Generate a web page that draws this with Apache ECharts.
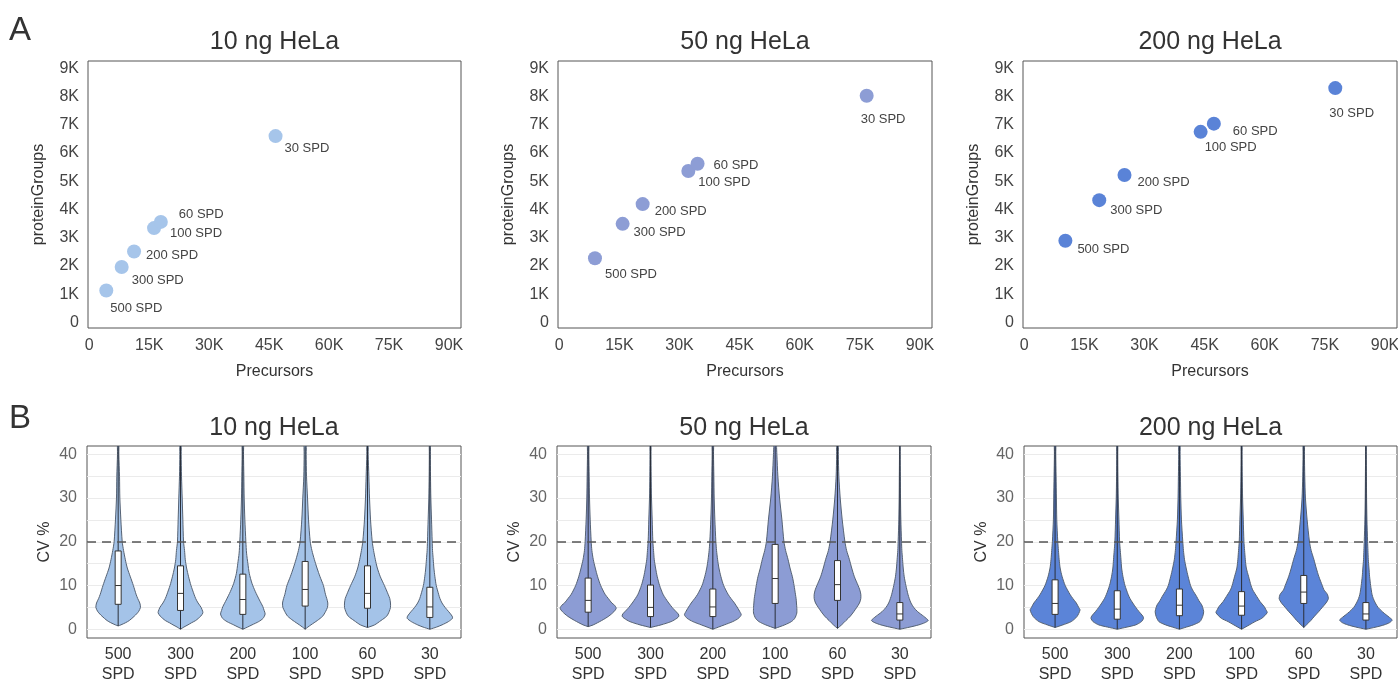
<!DOCTYPE html>
<html><head><meta charset="utf-8">
<script src="https://cdn.jsdelivr.net/npm/echarts@6/dist/echarts.min.js"></script>
<style>html,body{margin:0;padding:0;background:#fff}#c{width:1398px;height:679px}</style>
</head><body><div id="c"></div>
<script>
// ---------------- DATA ----------------
const panelTitles = ['10 ng HeLa', '50 ng HeLa', '200 ng HeLa'];
const spdLabels = ['500 SPD', '300 SPD', '200 SPD', '100 SPD', '60 SPD', '30 SPD'];
const precursorTicks = [0, 15000, 30000, 45000, 60000, 75000, 90000];
const proteinTicks = [0, 1000, 2000, 3000, 4000, 5000, 6000, 7000, 8000, 9000];
const cvTicks = [0, 10, 20, 30, 40];
const cvGridLines = [0, 5, 10, 15, 20, 25, 30, 35, 40];
const cvThreshold = 20;

// Panel A: order 500,300,200,100,60,30 SPD
const precursors10 = [4250, 8100, 11200, 16200, 17900, 46600];
const proteins10 = [1130, 1960, 2510, 3340, 3560, 6600];
const precursors50 = [8900, 15800, 20800, 32200, 34500, 76700];
const proteins50 = [2270, 3490, 4190, 5360, 5620, 8030];
const precursors200 = [10250, 18700, 25000, 44000, 47300, 77600];
const proteins200 = [2890, 4330, 5220, 6750, 7040, 8300];

// Panel B: violin density profiles [CV %, relative half-width]
const violin10 = [
  [[0.76,0],[1,8],[1.5,22],[2,33],[3,48],[4,60],[5,66],[6,64],[7,58],[8,53],[10,45],[12,36],[14,27],[16,21],[18,16],[20,12],[25,8],[30,5],[35,4],[40,2]],
  [[0,0],[0.5,10],[1,22],[1.5,33],[2,45],[3,60],[3.7,66],[4,66],[5,61],[6,52],[7,45],[8,40],[10,31],[12,24],[14,18],[16,14],[18,12],[20,9],[25,7],[30,5],[35,3],[40,2]],
  [[0,0],[0.5,14],[1,27],[1.75,47],[2.5,60],[3.5,66],[4.3,63],[5.2,59],[6.7,49],[8.6,37],[10.5,27],[12.8,19],[15,15],[17.4,11],[20,9],[25,6],[30,4],[35,3],[40,2]],
  [[0,0],[0.5,8],[1,17],[2,36],[3,52],[4,60],[5,66],[6,67],[7,64],[8,60],[10,54],[12,44],[14,35],[16,27],[18,20],[20,15],[25,10],[30,7],[35,4],[40,3]],
  [[0.4,0],[1,21],[2,40],[3,57],[4,64],[5,68],[6,68],[7,66],[8,61],[10,50],[12,38],[14,29],[16,23],[18,18],[20,14],[25,9],[30,6],[35,4],[40,2]],
  [[0,0],[0.5,20],[1,36],[1.75,55],[2.5,67],[3,66],[4,56],[5,45],[6,36],[7,30],[8,26],[10,19],[12,15],[14,12],[16,10],[18,8],[20,7],[25,5],[30,3],[35,2],[40,1.5]]
];
const violin50 = [
  [[0.6,0],[1,15],[2,40],[3,61],[4,76],[4.8,83],[5.5,78],[6,70],[7,60],[8,50],[10,37],[12,28],[14,21],[16,15],[18,11],[20,9],[25,6],[30,4],[35,3],[40,2]],
  [[0.4,0],[1,31],[1.75,61],[2.5,78],[3,84],[3.5,82],[4.4,71],[5,64],[6,54],[7,45],[8,37],[10,27],[12,20],[14,15],[16,11],[18,9],[20,7],[25,5],[30,3],[35,2],[40,1.5]],
  [[0,0],[0.5,17],[1,34],[1.75,59],[2.5,76],[3.3,84],[4,80],[4.8,74],[6,64],[7,54],[8,45],[10,32],[12,24],[14,18],[16,14],[18,11],[20,9],[25,6],[30,4],[35,3],[40,2]],
  [[0.2,0],[1,28],[1.75,48],[2.5,58],[3.7,64],[5,64],[6,63],[7,62],[8,60],[10,56],[12,51],[14,44],[16,38],[18,31],[20,26],[25,20],[30,13],[35,8],[40,5],[42,4]],
  [[0.2,0],[1,12],[2,25],[3,38],[4,48],[5,57],[6,65],[7,69],[8,69],[9,66],[10,61],[12,50],[14,42],[16,35],[18,27],[20,22],[25,14],[30,8],[35,4],[40,2.5]],
  [[0,0],[0.5,30],[1,56],[1.5,74],[2,84],[2.5,78],[3,70],[4,53],[5,41],[6,33],[7,28],[8,24],[10,18],[12,13],[14,10],[16,8],[18,6],[20,5],[25,3],[30,2],[35,1.5],[40,1]]
];
const violin200 = [
  [[0.4,0],[1,23],[1.75,48],[2.9,65],[4.4,74],[5,70],[6,63],[7,53],[8,44],[10,30],[12,21],[14,15],[16,12],[18,10],[20,8],[25,5],[30,4],[35,3],[40,2]],
  [[0,0],[0.5,29],[1,55],[1.75,72],[2.5,78],[3,76],[4,65],[5,55],[6,46],[7,38],[8,32],[10,23],[12,17],[14,13],[16,11],[18,9],[20,7],[25,5],[30,3],[35,2],[40,1.5]],
  [[0,0],[0.5,21],[1,41],[1.75,61],[2.9,69],[4,72],[5,69],[5.6,66],[6.5,58],[7.5,51],[9,39],[10,33],[12,26],[14,20],[16,15],[18,12],[20,10],[25,6],[30,4],[35,3],[40,2]],
  [[0,0],[1,23],[1.75,40],[2.5,60],[3.8,76],[4.5,72],[5.2,67],[6.3,55],[7.5,45],[9,33],[10,28],[12,21],[14,14],[16,11],[18,9],[20,7],[25,5],[30,3],[35,2],[40,1.5]],
  [[0.4,0],[1,8],[2,21],[3,32],[4,44],[5,55],[6,66],[7,73],[8,70],[9,60],[10,55],[12,45],[14,37],[16,30],[18,22],[20,17],[25,10],[30,5],[35,3],[40,2]],
  [[0,0],[0.5,30],[1,54],[1.5,70],[2.1,78],[2.7,70],[3.3,60],[4,49],[5,36],[6,28],[7,22],[8,18],[10,14],[12,11],[14,9],[16,7],[18,6],[20,5],[25,3],[30,2],[35,1.5],[40,1]]
];
// box stats [Q1, median, Q3]
const box10 = [[5.7,10.0,17.9],[4.3,8.2,14.5],[3.4,6.8,12.6],[5.3,9.1,15.5],[4.8,8.2,14.5],[2.7,5.1,9.6]];
const box50 = [[3.9,6.6,11.7],[2.9,5.0,10.1],[2.9,5.1,9.2],[5.9,11.6,19.4],[6.6,10.2,15.7],[2.1,3.5,6.1]];
const box200 = [[3.4,5.9,11.3],[2.3,4.6,8.8],[3.1,5.5,9.2],[3.2,5.3,8.6],[5.9,8.5,12.3],[2.1,3.5,6.1]];

// ---------------- STYLE ----------------
const FONT = "'Liberation Sans', Arial, sans-serif";
const colors = ['#a6c5ea', '#8d9dd5', '#5a83d7'];
const violinFills = ['#a4c3e8', '#8c9cd4', '#5b84d8'];
// label offsets (px from point centre), purely presentational
const labelOffsets = [
  [[4,18],[10,13],[12,4],[16,5],[18,-7],[9,12]],
  [[10,16],[11,9],[12,7],[10,11],[16,2],[-6,24]],
  [[12,9],[11,10],[13,7],[4,16],[19,8],[-6,25]]
];
const topGrids = [
  {left: 88, top: 61, width: 373, height: 267},
  {left: 558, top: 61, width: 374, height: 267},
  {left: 1023, top: 61, width: 374, height: 267}
];
const botGrids = [
  {left: 87, top: 446, width: 374, height: 192},
  {left: 557, top: 446, width: 374, height: 192},
  {left: 1024, top: 446, width: 373, height: 192}
];
const VIOLIN_UNIT = 184.5; // density units per category band
const TOP_CV = 43;

const scatterX = [precursors10, precursors50, precursors200];
const scatterY = [proteins10, proteins50, proteins200];
const violins = [violin10, violin50, violin200];
const boxes = [box10, box50, box200];

const kfmt = v => v === 0 ? '0' : (v / 1000) + 'K';
const gridBase = {show: true, borderColor: '#555', borderWidth: 1, backgroundColor: '#fff', containLabel: false, outerBoundsMode: 'none'};

const grid = [], xAxis = [], yAxis = [], series = [], graphic = [];
for (let p = 0; p < 3; p++) {
  grid.push(Object.assign({}, gridBase, topGrids[p]));
  xAxis.push({
    type: 'value', gridIndex: p, min: -325, max: 93000,
    axisLine: {show: false}, axisTick: {show: false}, splitLine: {show: false},
    axisLabel: {customValues: precursorTicks, formatter: kfmt, color: '#444', fontSize: 16, fontFamily: FONT, margin: 10},
    name: 'Precursors', nameLocation: 'middle', nameGap: 36,
    nameTextStyle: {color: '#333', fontSize: 16, fontFamily: FONT}
  });
  yAxis.push({
    type: 'value', gridIndex: p, min: -200, max: 9260,
    axisLine: {show: false}, axisTick: {show: false}, splitLine: {show: false},
    axisLabel: {customValues: proteinTicks, formatter: kfmt, color: '#444', fontSize: 16, fontFamily: FONT, margin: 9},
    name: 'proteinGroups', nameLocation: 'middle', nameGap: 41,
    nameTextStyle: {color: '#333', fontSize: 16, fontFamily: FONT}
  });
  const pts = scatterX[p].map((x, i) => {
    const off = labelOffsets[p][i];
    return {
      value: [x, scatterY[p][i]], name: spdLabels[i],
      label: {position: [7 + off[0], 7 + off[1]]}
    };
  });
  series.push({
    type: 'scatter', xAxisIndex: p, yAxisIndex: p, symbol: 'circle', symbolSize: 14,
    itemStyle: {color: colors[p], opacity: 1},
    label: {show: true, formatter: d => d.name, color: '#444', fontSize: 13, fontFamily: FONT, align: 'left', verticalAlign: 'middle'},
    data: pts, silent: true
  });
  graphic.push({type: 'text', x: topGrids[p].left + topGrids[p].width / 2, y: 42,
    style: {text: panelTitles[p], x: 0, y: 0, fill: '#333', font: '25px ' + FONT, textAlign: 'center', textVerticalAlign: 'middle'}});
}
for (let p = 0; p < 3; p++) {
  const gi = 3 + p;
  grid.push(Object.assign({}, gridBase, botGrids[p]));
  xAxis.push({
    type: 'category', gridIndex: gi, data: spdLabels, boundaryGap: true,
    axisLine: {show: false}, axisTick: {show: false}, splitLine: {show: false},
    axisLabel: {interval: 0, formatter: v => v.replace(' ', '\n'), color: '#333', fontSize: 16, lineHeight: 20, fontFamily: FONT, margin: 7}
  });
  yAxis.push({
    type: 'value', gridIndex: gi, min: -2, max: 41.9,
    axisLine: {show: false},
    axisTick: {show: false, customValues: cvGridLines},
    splitLine: {show: true, lineStyle: {color: '#ebebeb', width: 1}},
    axisLabel: {customValues: cvTicks, color: '#666', fontSize: 16, fontFamily: FONT, margin: 10},
    name: 'CV %', nameLocation: 'middle', nameGap: 34,
    nameTextStyle: {color: '#333', fontSize: 16, fontFamily: FONT}
  });
  const prof = violins[p], bx = boxes[p], fill = violinFills[p];
  series.push({
    type: 'custom', xAxisIndex: gi, yAxisIndex: gi, clip: true, silent: true,
    data: spdLabels.map((c, i) => [i, bx[i][1]]),
    encode: {x: 0, y: 1},
    renderItem: function (params, api) {
      const i = api.value(0);
      const pr = prof[i];
      const band = api.size([1, 0])[0];
      const k = band / VIOLIN_UNIT;
      const cx = api.coord([i, 0])[0];
      const full = pr.concat([[TOP_CV, pr[pr.length - 1][1]]]);
      const right = [], left = [];
      full.forEach(([cv, w]) => {
        const y = api.coord([i, cv])[1];
        right.push([cx + w * k, y]);
        left.unshift([cx - w * k, y]);
      });
      const yTip = api.coord([i, pr[0][0]])[1];
      const yTop = api.coord([i, TOP_CV])[1];
      const q1 = api.coord([i, bx[i][0]])[1], md = api.coord([i, bx[i][1]])[1], q3 = api.coord([i, bx[i][2]])[1];
      const bw = 6;
      return {
        type: 'group',
        children: [
          {type: 'polygon', shape: {points: right.concat(left), smooth: 0.25},
            style: {fill: fill, stroke: '#556274', lineWidth: 1}},
          {type: 'line', shape: {x1: cx, y1: yTip, x2: cx, y2: yTop},
            style: {stroke: '#2a2f3a', lineWidth: 1}},
          {type: 'rect', shape: {x: cx - bw / 2, y: q3, width: bw, height: q1 - q3},
            style: {fill: '#fff', stroke: '#333', lineWidth: 1}},
          {type: 'line', shape: {x1: cx - bw / 2, y1: md, x2: cx + bw / 2, y2: md},
            style: {stroke: '#333', lineWidth: 1}}
        ]
      };
    },
    markLine: {
      silent: true, symbol: 'none', animation: false,
      label: {show: false},
      lineStyle: {color: '#555', type: [9, 6], width: 1.5},
      data: [{yAxis: cvThreshold}]
    },
    z: 3
  });
  graphic.push({type: 'text', x: botGrids[p].left + botGrids[p].width / 2, y: 428,
    style: {text: panelTitles[p], x: 0, y: 0, fill: '#333', font: '25px ' + FONT, textAlign: 'center', textVerticalAlign: 'middle'}});
}
graphic.push({type: 'text', x: 9, y: 31, style: {text: 'A', fill: '#333', font: '33px ' + FONT, textVerticalAlign: 'middle'}});
graphic.push({type: 'text', x: 9, y: 419, style: {text: 'B', fill: '#333', font: '33px ' + FONT, textVerticalAlign: 'middle'}});

const chart = echarts.init(document.getElementById('c'), null, {renderer: 'canvas'});
chart.setOption({animation: false, backgroundColor: '#fff', grid, xAxis, yAxis, series, graphic});
</script>
</body></html>
